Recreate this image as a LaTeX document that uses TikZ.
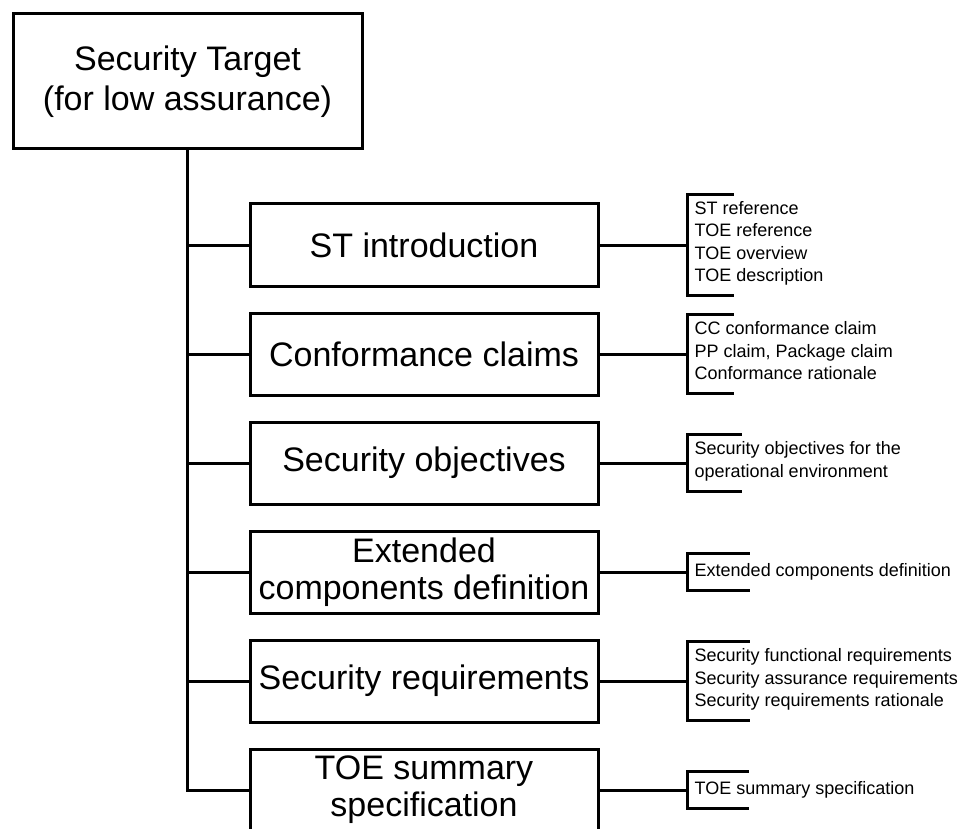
\documentclass[tikz,border=0pt]{standalone}
\usepackage{fontspec}
\setmainfont{Liberation Sans}
\usetikzlibrary{positioning,calc}

\begin{document}
\begin{tikzpicture}[x=1pt, y=-1pt,
  sec/.style={draw, line width=3pt, minimum width=348pt, minimum height=82pt, align=center, inner sep=2pt, font=\fontsize{34}{37}\selectfont},
  items/.style={anchor=west, align=left, inner xsep=7pt, inner ysep=7pt, font=\fontsize{18}{22.5}\selectfont,
    execute at begin node=\strut, execute at end node=\strut},
  link/.style={line width=3pt},
  node distance=24pt]
\useasboundingbox (0,0) rectangle (974,829);
\node[sec, minimum width=349pt, minimum height=135pt, font=\fontsize{34}{40}\selectfont] (st) at (187.5,81.5) {Security Target\\(for low assurance)};
% sections
\node[sec] (intro) at (424,245) {ST introduction};
\node[sec, below=of intro] (conf) {Conformance claims};
\node[sec, below=of conf] (obj) {Security objectives};
\node[sec, below=of obj] (ext) {Extended\\components definition};
\node[sec, below=of ext] (req) {Security requirements};
\node[sec, below=of req] (tss) {TOE summary\\specification};
% contents of each section
\node[items, right=88pt of intro] (intro-l) {ST reference\\TOE reference\\TOE overview\\TOE description};
\node[items, right=88pt of conf] (conf-l) {CC conformance claim\\PP claim, Package claim\\Conformance rationale};
\node[items, right=88pt of obj] (obj-l) {Security objectives for the\\operational environment};
\node[items, right=88pt of ext] (ext-l) {Extended components definition};
\node[items, right=88pt of req] (req-l) {Security functional requirements\\Security assurance requirements\\Security requirements rationale};
\node[items, right=88pt of tss] (tss-l) {TOE summary specification};
% tree
\draw[link] (st.south) |- (tss.west);
\foreach \s in {intro,conf,obj,ext,req}
  \draw[link] (st.south |- \s.west) -- (\s.west);
% brackets
\foreach \s/\len in {intro/46,conf/46,obj/54,ext/62,req/62,tss/61} {
  \draw[link] (\s.east) -- (\s-l.west);
  \draw[link] ($(\s-l.north west)+(\len,0)$) -| (\s-l.south west) -- ++(\len,0);
}
\end{tikzpicture}
\end{document}
